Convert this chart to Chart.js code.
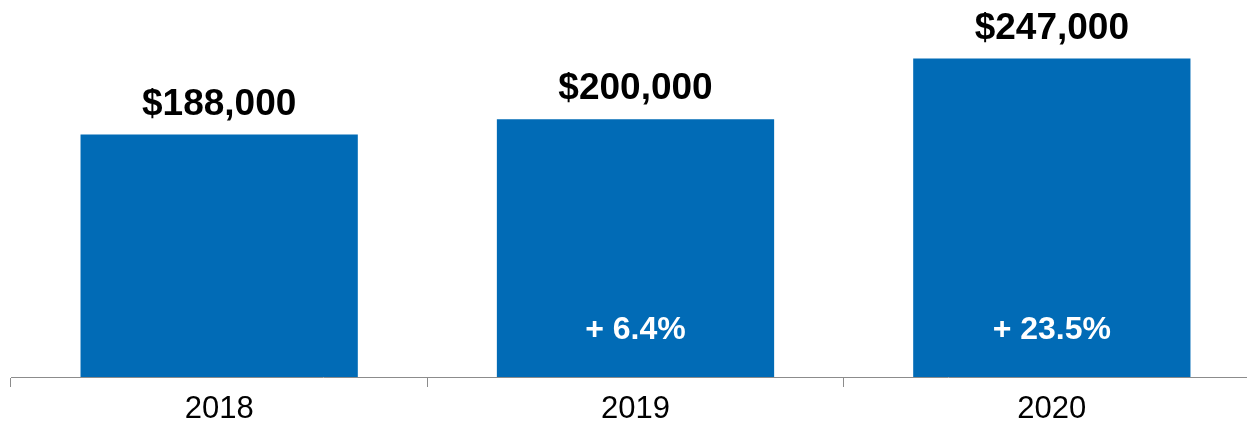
<!DOCTYPE html>
<html>
<head>
<meta charset="utf-8">
<script src="https://cdn.jsdelivr.net/npm/chart.js@4/dist/chart.umd.min.js"></script>
<style>
  html, body { margin: 0; padding: 0; background: #fff; overflow: hidden; }
  #wrap { position: relative; width: 1262px; height: 425px; }
</style>
</head>
<body>
<div id="wrap"><canvas id="c"></canvas></div>
<script>
// Median price by year
const years = ['2018', '2019', '2020'];
const prices = [188000, 200000, 247000];

const BAR_BLUE = '#016BB6';
const FONT = '"Liberation Sans", Helvetica, Arial, sans-serif';

const fmtMoney = v => '$' + v.toLocaleString('en-US');
const fmtChange = (cur, prev) => '+ ' + ((cur / prev - 1) * 100).toFixed(1) + '%';

// Draws the dollar value above each bar and the year-over-year change inside it
const barLabels = {
  id: 'barLabels',
  afterDatasetsDraw(chart) {
    const ctx = chart.ctx;
    const meta = chart.getDatasetMeta(0);
    const data = chart.data.datasets[0].data;
    ctx.save();
    ctx.textAlign = 'center';
    ctx.textBaseline = 'alphabetic';
    meta.data.forEach((bar, i) => {
      ctx.fillStyle = '#000';
      ctx.font = 'bold 37px ' + FONT;
      ctx.fillText(fmtMoney(data[i]), bar.x, bar.y - 20);
      if (i > 0) {
        ctx.fillStyle = '#fff';
        ctx.font = 'bold 32px ' + FONT;
        ctx.fillText(fmtChange(data[i], data[i - 1]), bar.x, bar.base - 38);
      }
    });
    ctx.restore();
  }
};

new Chart(document.getElementById('c'), {
  type: 'bar',
  data: {
    labels: years,
    datasets: [{
      data: prices,
      backgroundColor: BAR_BLUE,
      borderWidth: 0,
      categoryPercentage: 1.0,
      barPercentage: 0.666
    }]
  },
  options: {
    responsive: true,
    maintainAspectRatio: false,
    animation: false,
    layout: { padding: { top: 16, left: 11, right: 2, bottom: 0 } },
    plugins: { legend: { display: false }, tooltip: { enabled: false } },
    scales: {
      x: {
        offset: true,
        grid: {
          offset: true,
          drawOnChartArea: false,
          drawTicks: true,
          tickLength: 10,
          color: '#8c8c8c',
          lineWidth: 1
        },
        border: { display: true, color: '#8c8c8c', width: 1 },
        ticks: { color: '#000', font: { family: FONT, size: 31 }, padding: 4 },
        afterFit(scale) { scale.height = 48; }
      },
      y: {
        display: false,
        min: 0,
        max: 280000
      }
    }
  },
  plugins: [barLabels]
});
</script>
</body>
</html>
